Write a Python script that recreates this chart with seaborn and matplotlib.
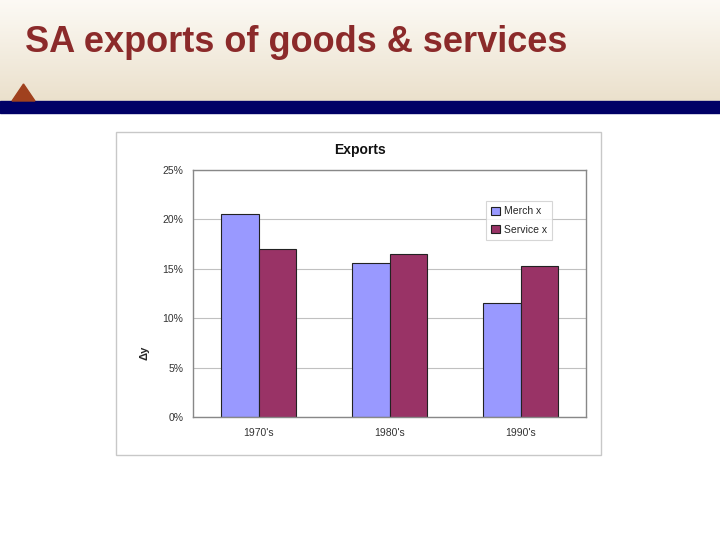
import numpy as np
import pandas as pd
import matplotlib.pyplot as plt
import matplotlib.patches as mpatches
import seaborn as sns

# Data
decades = ["1970's", "1980's", "1990's"]
merch_x = [20.5, 15.6, 11.5]
service_x = [17.0, 16.5, 15.3]
series = ["Merch x", "Service x"]
yticks = [0, 5, 10, 15, 20, 25]

df = pd.DataFrame({
    "decade": decades * 2,
    "series": [series[0]] * 3 + [series[1]] * 3,
    "value": merch_x + service_x,
})

sns.set_style("white")
plt.rcParams['font.family'] = ['Liberation Sans', 'DejaVu Sans']

fig = plt.figure(figsize=(7.2, 5.4), dpi=100)

# slide header background (beige gradient)
bg = fig.add_axes([0, 0, 1, 1], zorder=-10)
bg.set_axis_off()
grad = np.ones((540, 1, 3))
top = np.array([0.99, 0.98, 0.96])
bot = np.array([0.92, 0.88, 0.80])
for i in range(101):
    t = i / 100
    grad[i, 0] = top * (1 - t) + bot * t
bg.imshow(grad, aspect="auto", extent=[0, 720, 540, 0])
bg.set_xlim(0, 720)
bg.set_ylim(540, 0)
bg.add_patch(mpatches.Rectangle((0, 101), 720, 12, color="#000066"))
bg.add_patch(mpatches.Polygon([[12, 101], [35, 101], [23.5, 84]], color="#A0411E"))
bg.add_patch(mpatches.Rectangle((116, 132), 485, 323, facecolor="white",
                                edgecolor="#c8c8c8", lw=1))
bg.text(25, 43, "SA exports of goods & services", fontsize=26, fontweight="bold",
        color="#8B2A2A", va="center", ha="left")
bg.text(360, 150, "Exports", fontsize=10, fontweight="bold", color="#111111",
        ha="center", va="center")

ax = fig.add_axes([193 / 720, 1 - 417 / 540, 393 / 720, 247 / 540])
sns.barplot(data=df, x="decade", y="value", hue="series",
            palette=["#9999FF", "#993366"], width=0.58,
            edgecolor="#222222", linewidth=0.8, saturation=1, ax=ax)

ax.set_ylim(0, 25)
ax.set_xlim(-0.5, 2.5)
ax.set_yticks(yticks)
ax.set_yticklabels([f"{v}%" for v in yticks], fontsize=7.5, color="#333333")
ax.set_xticks(range(3))
ax.set_xticklabels(decades, fontsize=7.5, color="#333333")
ax.tick_params(axis="x", length=0, pad=8)
ax.tick_params(axis="y", length=3, color="#888888", pad=4)
ax.set_xticks([0.5, 1.5], minor=True)
ax.tick_params(axis="x", which="minor", length=3, color="#888888")
ax.yaxis.grid(True, color="#c0c0c0", lw=0.8)
ax.set_axisbelow(True)
for s in ax.spines.values():
    s.set_color("#888888")
    s.set_linewidth(1)
ax.set_xlabel("")
ax.set_ylabel("Δy", fontsize=8, fontweight="bold")
ax.yaxis.set_label_coords(-0.11, 0.26)

leg = ax.legend(loc="upper left", bbox_to_anchor=((481 - 193) / 393, (417 - 196) / 247),
                fontsize=7.5, frameon=True, fancybox=False, handlelength=0.8,
                handleheight=0.8, borderpad=0.5, labelspacing=0.8, handletextpad=0.4)
leg.get_frame().set_edgecolor("#cccccc")
leg.get_frame().set_linewidth(0.8)

fig.savefig("out.png", dpi=100)
